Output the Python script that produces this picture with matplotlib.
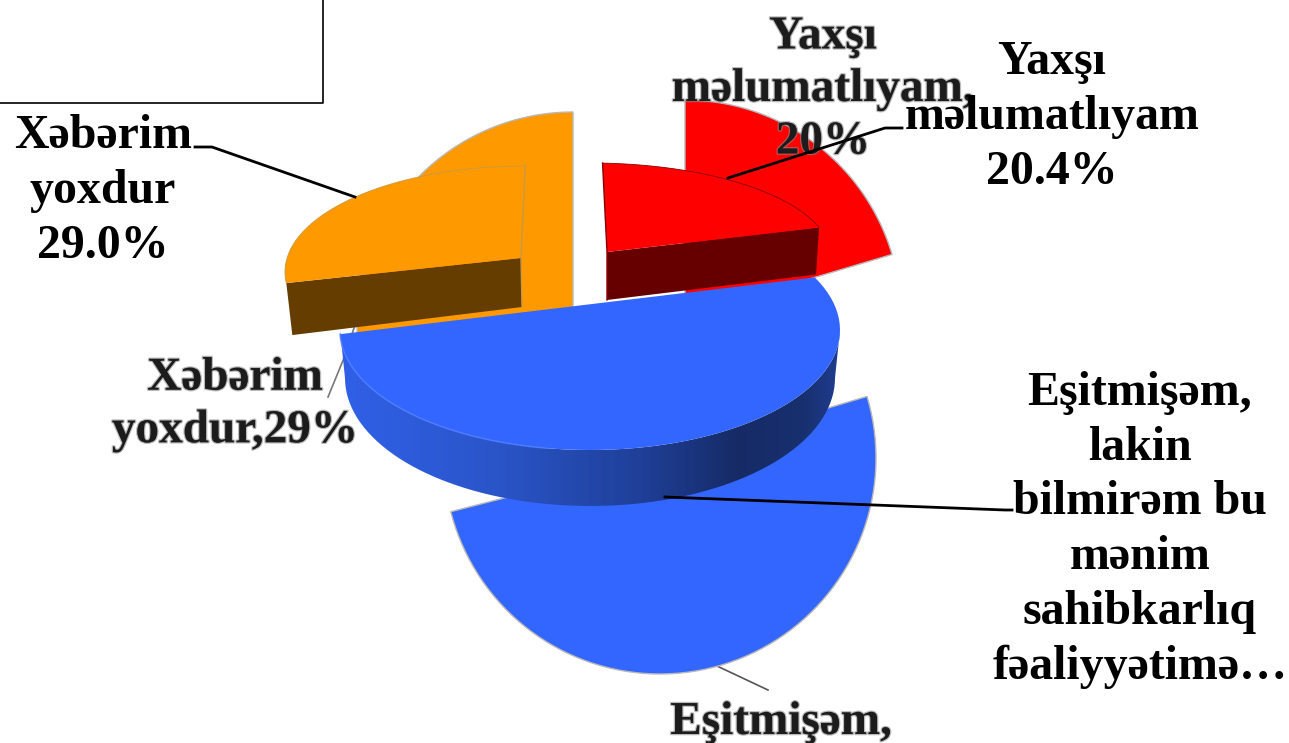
"""Two overlapping exploded pies, flat one behind and a tilted 3D one in front."""
import numpy as np
import matplotlib
matplotlib.use('Agg')  # Non-interactive backend
import matplotlib.pyplot as plt
import matplotlib.patheffects as pe
from matplotlib.colors import LinearSegmentedColormap
from matplotlib.patches import Polygon

# clockwise from 12 o'clock: informed, heard of it, not aware
values = [20.4, 50.6, 29.0]
colors = ['#ff0000', '#3366ff', '#ff9900']
dark_colors = ['#660000', None, '#663d00']
front_labels = ['Yaxşı\nməlumatlıyam\n20.4%',
                'Eşitmişəm,\nlakin\nbilmirəm bu\nmənim\nsahibkarlıq\nfəaliyyətimə…',
                'Xəbərim\nyoxdur\n29.0%']
back_labels = ['Yaxşı\nməlumatlıyam,\n20%', 'Eşitmişəm,', 'Xəbərim\nyoxdur,29%']

FONT = ['Liberation Serif', 'DejaVu Serif']

fig = plt.figure(figsize=(12.89, 7.43), dpi=100)
ax = fig.add_axes([0, 0, 1, 1])
ax.set_xlim(0, 1289)
ax.set_ylim(743, 0)  # pixel coordinates, y down
ax.axis('off')

# angle spans of each slice, degrees, clockwise from 90
spans = np.array(values) / sum(values) * 360
ends = 90 - np.cumsum(spans)
starts = ends + spans


def arc(cx, cy, rx, ry, t0, t1, n=80):
    t = np.radians(np.linspace(t0, t1, n))
    return np.column_stack([cx + rx * np.cos(t), cy - ry * np.sin(t)])


# back pie: flat, each slice pushed out on its own
back_pos = [(685, 316), (660, 458), (573, 328)]
for i in [2, 0, 1]:
    cx, cy = back_pos[i]
    pts = np.vstack([[cx, cy], arc(cx, cy, 216, 216, starts[i], ends[i])])
    ax.add_patch(Polygon(pts, closed=True, fc=colors[i], ec='#b8b8b8', lw=1.0, zorder=2))

# grey leaders of the back pie
ax.plot([717, 768], [666, 690], color='#555555', lw=1.2, zorder=1)
ax.plot([355, 344, 328], [325, 358, 397], color='#777777', lw=1.2, zorder=1)

back_effect = [pe.withStroke(linewidth=1.8, foreground='#8c8c8c', alpha=0.6)]
back_pos_text = [(823, 90), (781, 723), (235, 405)]
for label, (x, y) in zip(back_labels, back_pos_text):
    ax.text(x, y, label, ha='center', va='center', family=FONT, weight='bold',
            fontsize=34, color='#1c1c1c', linespacing=1.33, path_effects=back_effect, zorder=3)

# front pie, tilted. cx, cy, rx, ry, screen angle of slice start, angle stretch
view = [(590, 255, 240, 92, 87, 0.948),
        (590, 330, 250, 120, 26, 1.12),
        (525, 272, 240, 106, 186, 0.92)]
apexes = [(607, 252), None, (521, 258)]
# drop of the cut side at the outer tip and at the apex
drops = [((-3, 47), (0, 48)), None, ((6, 52), (1, 49))]
rims = ['#8a0000', None, '#c79a45']

for i in [2, 0]:
    cx, cy, rx, ry, t0, k = view[i]
    edge = arc(cx, cy, rx, ry, t0, t0 - k * spans[i])
    apex = np.array(apexes[i])
    # red ends on the tip over the cut side, orange starts on it
    tip, top = (edge[-1], edge[0]) if i == 0 else (edge[0], edge[-1])
    d_tip, d_apex = drops[i]
    side = np.array([tip, apex, apex + d_apex, tip + d_tip])
    ax.add_patch(Polygon(side, closed=True, fc=dark_colors[i], ec='none', zorder=4))
    ax.add_patch(Polygon(np.vstack([apex, edge]), closed=True, fc=colors[i], ec='none', zorder=5))
    ax.plot(edge[:, 0], edge[:, 1], color=rims[i], lw=0.6, zorder=5)
    ax.plot([top[0], apex[0], apex[0] + d_apex[0]], [top[1], apex[1], apex[1] + d_apex[1]],
            color=rims[i], lw=1.0, zorder=5)

# blue front slice, rim with a dark gradient
cx, cy, rx, ry, t0, k = view[1]
face = arc(cx, cy, rx, ry, t0, t0 - k * spans[1])
rim_top = arc(cx, cy, rx, ry, 0, -180)
rim_bottom = arc(cx, cy + 48, rx - 5, ry + 8, -180, 0)
rim_patch = Polygon(np.vstack([rim_top, rim_bottom]), closed=True, fc='none', ec='none', zorder=6)
ax.add_patch(rim_patch)
rim_cmap = LinearSegmentedColormap.from_list(
    'rim', [(0, '#3060e8'), (0.32, '#2a55c8'), (0.6, '#1f3f98'), (0.8, '#162b66'), (0.93, '#18306f'), (1, '#1f3d90')])
im = ax.imshow(np.linspace(0, 1, 256)[None, :], extent=(340, 840, 510, 320), cmap=rim_cmap,
               aspect='auto', zorder=6)
im.set_clip_path(rim_patch)
ax.set_xlim(0, 1289)
ax.set_ylim(743, 0)
ax.add_patch(Polygon(face, closed=True, fc=colors[1], ec='none', zorder=7))
low_edge = arc(cx, cy, rx, ry, -100, -178)
ax.plot(low_edge[:, 0], low_edge[:, 1], color='#4c7cff', lw=1.2, alpha=0.8, zorder=7)

# black leaders and labels of the front pie
ax.plot([195, 212, 355], [147, 147, 197], color='black', lw=2, zorder=8)
ax.plot([728, 885, 902], [178, 128, 128], color='black', lw=2, zorder=8)
ax.plot([665, 1005, 1012], [497, 510, 510], color='black', lw=2, zorder=8)

front_pos_text = [(1052, 117), (1140, 530), (103, 191)]
for label, (x, y) in zip(front_labels, front_pos_text):
    ax.text(x, y, label, ha='center', va='center', family=FONT, weight='bold',
            fontsize=34.5, color='black', linespacing=1.31, zorder=9)

# stray box in the top left corner
ax.plot([323, 323, 0], [0, 103, 103], color='black', lw=1.2, zorder=9)

fig.savefig('out.png', dpi=100)
